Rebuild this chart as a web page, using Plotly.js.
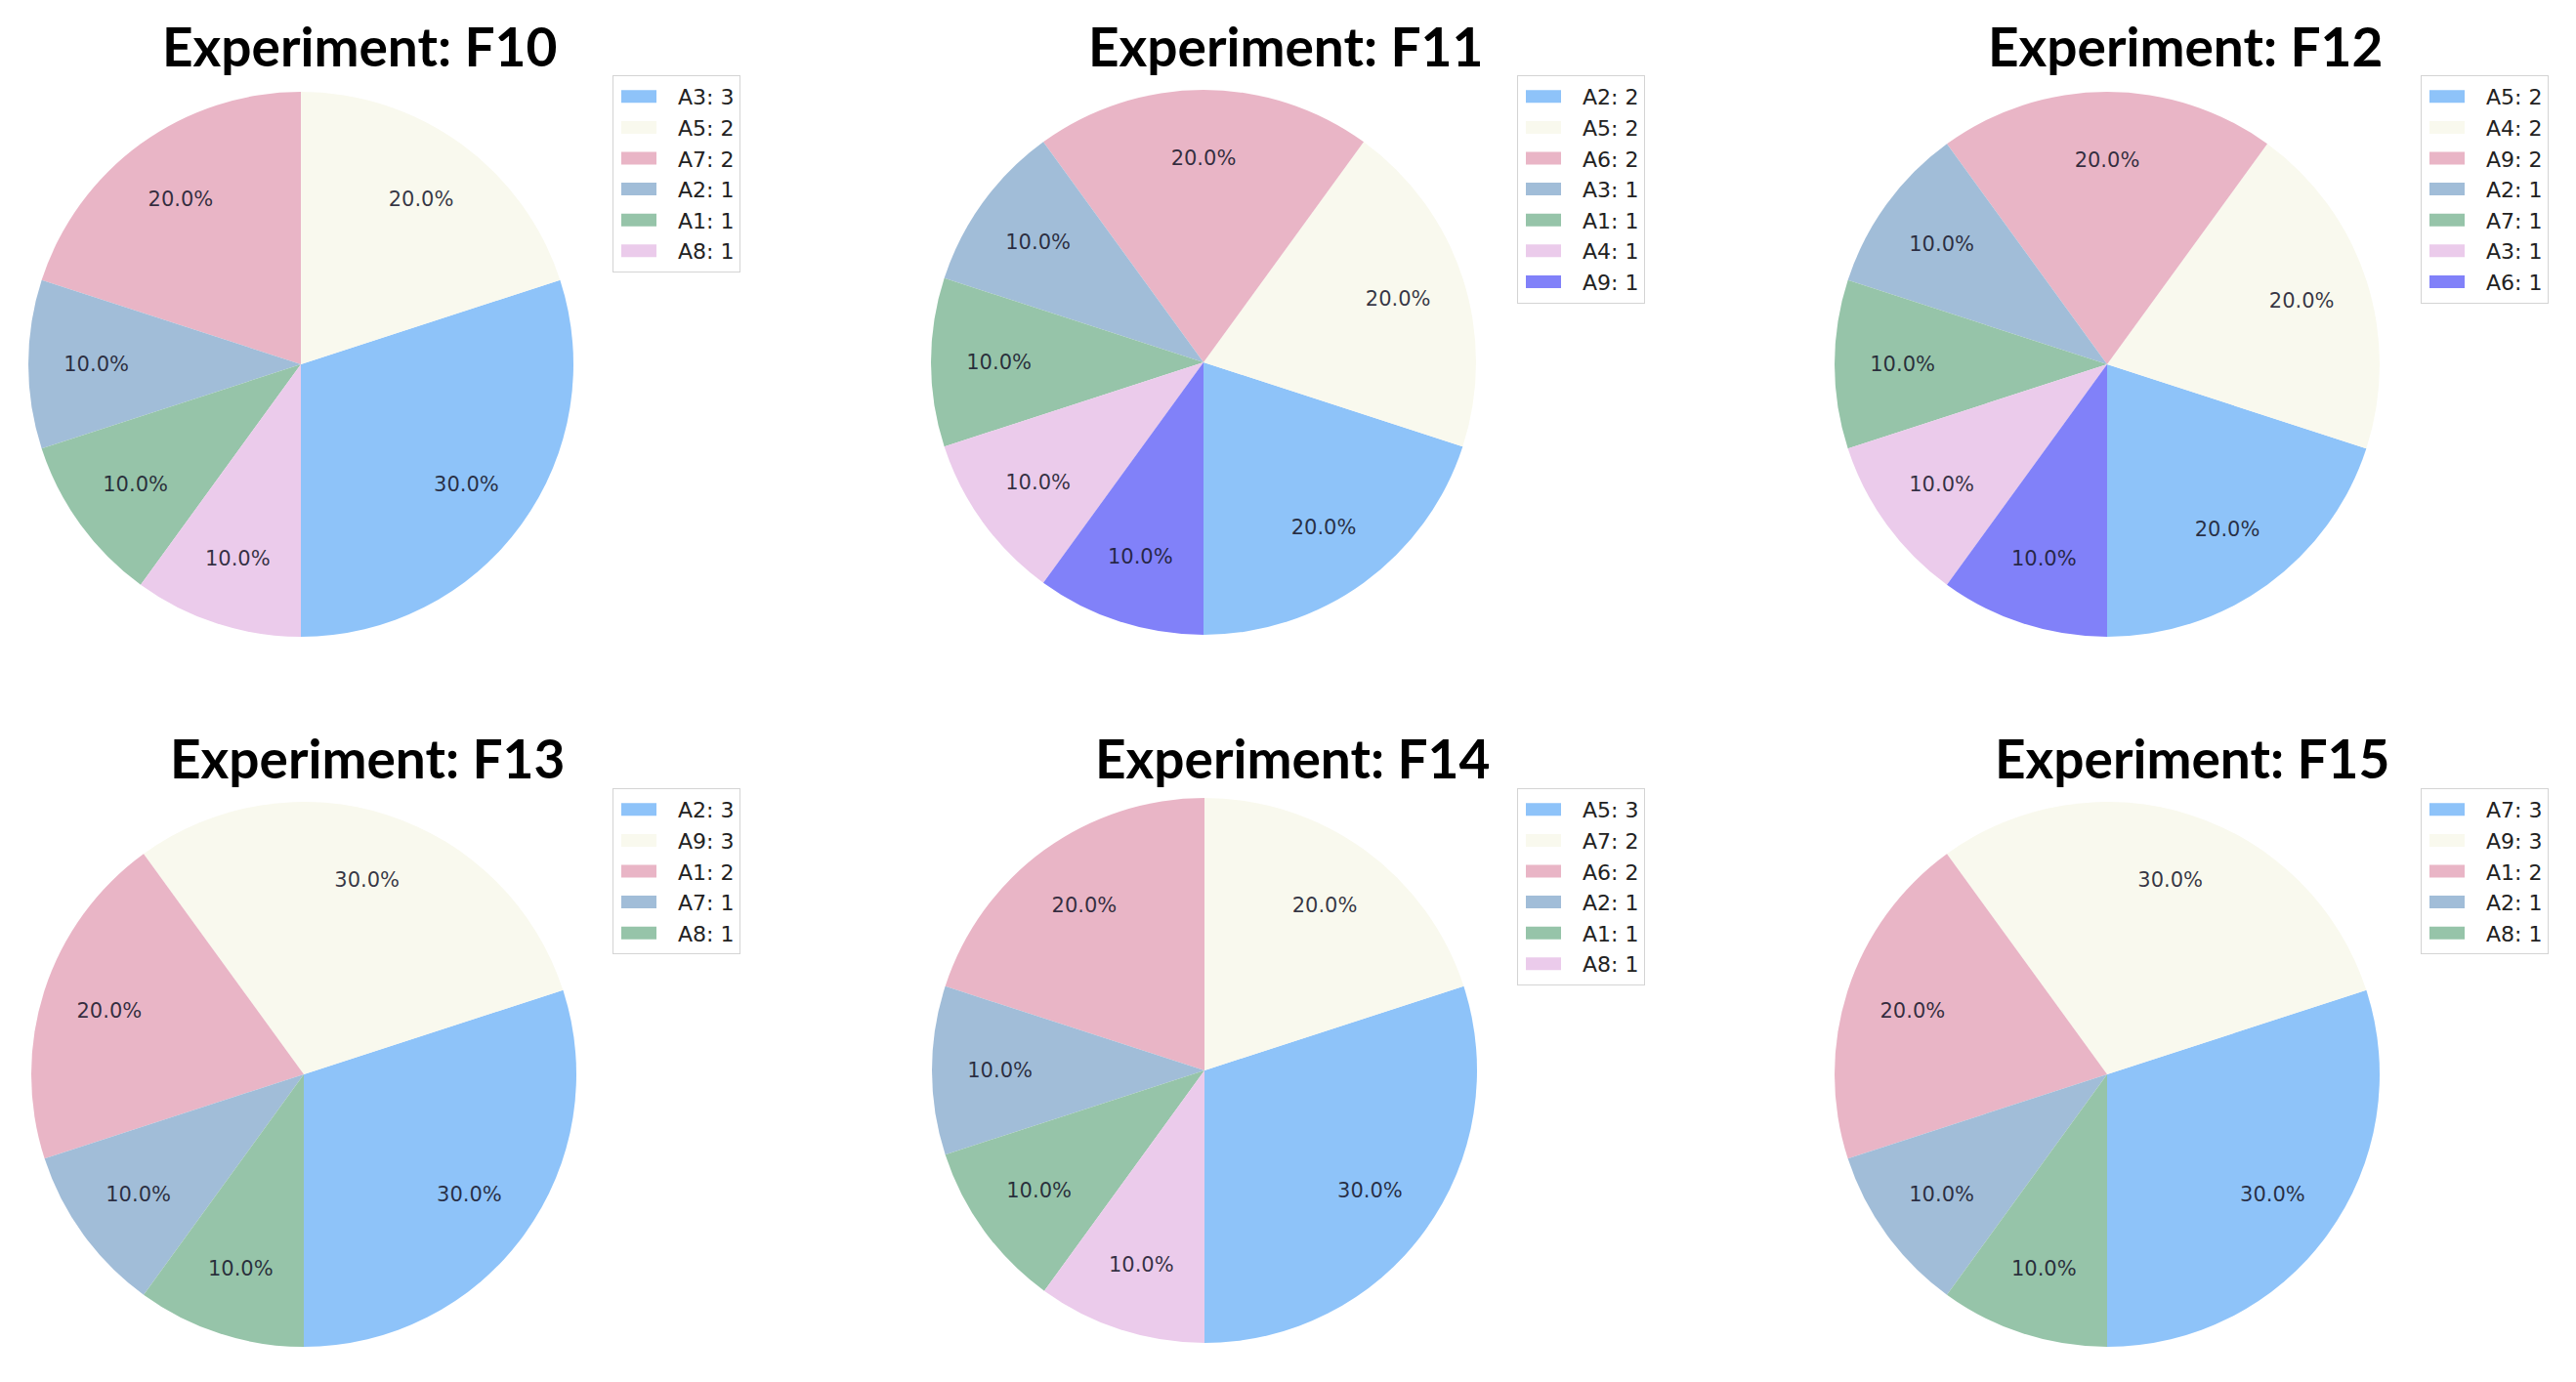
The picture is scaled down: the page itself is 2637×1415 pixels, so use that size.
<!DOCTYPE html>
<html>
<head>
<meta charset="utf-8">
<script src="https://cdn.plot.ly/plotly-3.0.1.min.js"></script>
<style>
  html, body { margin: 0; padding: 0; background: #ffffff; }
  #chart { width: 2637px; height: 1415px; }
</style>
</head>
<body>
<div id="chart"></div>
<script>
// ---- data ----
const experiments = ['F10', 'F11', 'F12', 'F13', 'F14', 'F15'];

const namesF10 = ['A3', 'A5', 'A7', 'A2', 'A1', 'A8'];
const countsF10 = [3, 2, 2, 1, 1, 1];

const namesF11 = ['A2', 'A5', 'A6', 'A3', 'A1', 'A4', 'A9'];
const countsF11 = [2, 2, 2, 1, 1, 1, 1];

const namesF12 = ['A5', 'A4', 'A9', 'A2', 'A7', 'A3', 'A6'];
const countsF12 = [2, 2, 2, 1, 1, 1, 1];

const namesF13 = ['A2', 'A9', 'A1', 'A7', 'A8'];
const countsF13 = [3, 3, 2, 1, 1];

const namesF14 = ['A5', 'A7', 'A6', 'A2', 'A1', 'A8'];
const countsF14 = [3, 2, 2, 1, 1, 1];

const namesF15 = ['A7', 'A9', 'A1', 'A2', 'A8'];
const countsF15 = [3, 3, 2, 1, 1];

const allNames = [namesF10, namesF11, namesF12, namesF13, namesF14, namesF15];
const allCounts = [countsF10, countsF11, countsF12, countsF13, countsF14, countsF15];

// colours by slice position
const sliceColors = ['#8ec3f9', '#f9f9ee', '#e9b5c6', '#a1bdd8', '#96c4a9', '#ebcbeb', '#8181f9'];

// ---- layout geometry (pixels) ----
const W = 2637, H = 1415;
const R = 279;
const TEXT_R = 0.95 * R;      // outer radius of the transparent label ring
const TEXT_HOLE = 0.58;       // ring from ~0.55R to 0.95R -> labels near 0.75R
const pieCenters = [[308, 373], [1232, 371], [2157, 373], [311, 1100], [1233, 1096], [2157, 1100]];
const titleCenters = [[368, 47], [1316, 47], [2237, 47], [376, 776], [1323, 776], [2244, 776]];
const legendTopLeft = [[627, 77], [1553, 77], [2478, 77], [627, 807], [1553, 807], [2478, 807]];

const data = [];
const annotations = [];
const layout = {
  width: W, height: H,
  margin: {l: 0, r: 0, t: 0, b: 0},
  paper_bgcolor: '#ffffff',
  plot_bgcolor: '#ffffff',
  showlegend: true,
  annotations: annotations
};

function domainFor(cx, cy, r) {
  return {
    x: [(cx - r) / W, (cx + r) / W],
    y: [1 - (cy + r) / H, 1 - (cy - r) / H]
  };
}

experiments.forEach((exp, i) => {
  const [cx, cy] = pieCenters[i];
  const names = allNames[i];
  const counts = allCounts[i];
  const total = counts.reduce((a, b) => a + b, 0);
  // first wedge starts at 6 o'clock and wedges follow counter-clockwise
  const rot = 180 - 360 * counts[0] / total;
  const legendId = i === 0 ? 'legend' : 'legend' + (i + 1);
  // zero-width spaces keep legend entries of different pies apart
  const labels = names.map((n, k) => n + ': ' + counts[k] + '\u200b'.repeat(i));
  const colors = sliceColors.slice(0, names.length);

  data.push({
    type: 'pie',
    labels: labels,
    values: counts,
    sort: false,
    direction: 'counterclockwise',
    rotation: rot,
    marker: {colors: colors, line: {width: 0}},
    textinfo: 'none',
    hoverinfo: 'skip',
    domain: domainFor(cx, cy, R),
    legend: legendId,
    showlegend: true
  });
  // transparent ring carrying the percentage labels
  data.push({
    type: 'pie',
    labels: labels,
    values: counts,
    sort: false,
    direction: 'counterclockwise',
    rotation: rot,
    hole: TEXT_HOLE,
    marker: {colors: colors.map(() => 'rgba(0,0,0,0)'), line: {width: 0}},
    texttemplate: '%{percent:.1%}',
    textposition: 'inside',
    insidetextorientation: 'horizontal',
    insidetextfont: {family: 'DejaVu Sans', size: 21, color: 'rgba(25,25,45,0.88)'},
    hoverinfo: 'skip',
    domain: domainFor(cx, cy, TEXT_R),
    legend: legendId,
    showlegend: false
  });

  const [lx, ly] = legendTopLeft[i];
  layout[legendId] = {
    x: lx / W, y: 1 - ly / H,
    xanchor: 'left', yanchor: 'top',
    bgcolor: '#ffffff',
    bordercolor: '#d4d4d4',
    borderwidth: 1,
    itemwidth: 56,
    font: {family: 'DejaVu Sans', size: 22, color: '#222222'},
    itemclick: false, itemdoubleclick: false
  };
  const [tx, ty] = titleCenters[i];
  annotations.push({
    text: '<b>Experiment: ' + exp + '</b>',
    xref: 'paper', yref: 'paper',
    x: tx / W, y: 1 - ty / H,
    xanchor: 'center', yanchor: 'middle',
    showarrow: false,
    font: {family: 'Lato', size: 55, color: '#000000'}
  });
});

// widen the legend swatches to the wide patch shape of the original
function widenSwatches() {
  document.querySelectorAll('#chart path.legendpie').forEach(path => {
    const item = path.closest('g.traces') || path.parentNode.parentNode;
    const txt = item ? item.querySelector('text.legendtext') : null;
    const tx = txt ? (parseFloat(txt.getAttribute('x')) || 66) : 66;
    path.setAttribute('d', 'M18,6.5H-18V-6.5H18Z');
    path.setAttribute('transform', 'translate(' + (tx - 40) + ',0)');
  });
}

Plotly.newPlot('chart', data, layout, {displayModeBar: false, staticPlot: true}).then(gd => {
  widenSwatches();
  gd.on('plotly_afterplot', widenSwatches);
  requestAnimationFrame(widenSwatches);
  setTimeout(widenSwatches, 30);
  setTimeout(widenSwatches, 200);
});
</script>
</body>
</html>
